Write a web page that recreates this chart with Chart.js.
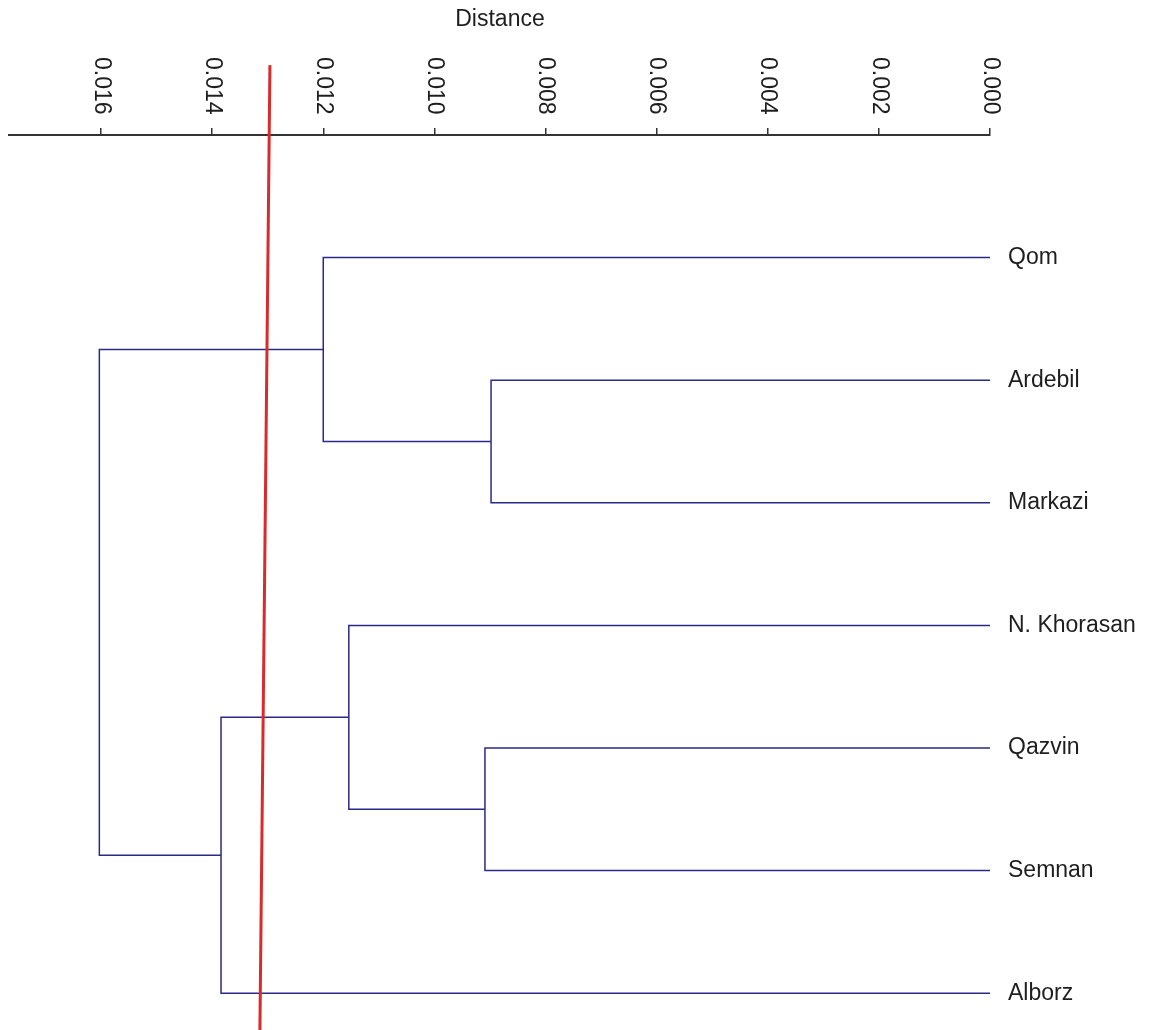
<!DOCTYPE html>
<html>
<head>
<meta charset="utf-8">
<script src="https://cdn.jsdelivr.net/npm/chart.js@4.4.0/dist/chart.umd.min.js"></script>
<style>
  html, body { margin: 0; padding: 0; background: #fff; }
  canvas { display: block; }
</style>
</head>
<body>
<canvas id="dendro" width="1153" height="1030"></canvas>
<script>
// leaves, top to bottom
var leafNames = ["Qom", "Ardebil", "Markazi", "N. Khorasan", "Qazvin", "Semnan", "Alborz"];
// merges: ids 0..6 are leaves, merge k creates cluster id 7+k
var mergeLeft = [1, 4, 0, 3, 10, 9];
var mergeRight = [2, 5, 7, 8, 6, 11];
var mergeHeight = [0.00898, 0.00909, 0.01200, 0.01154, 0.01384, 0.01603];
var tickValues = [0.016, 0.014, 0.012, 0.010, 0.008, 0.006, 0.004, 0.002, 0.000];
var tickLabels = ["0.016", "0.014", "0.012", "0.010", "0.008", "0.006", "0.004", "0.002", "0.000"];
// cut line
var cutX = [0.01296, 0.01314];
var cutY = [-1.57, 6.3];

var fontFamily = "'Liberation Sans', Arial, sans-serif";
var textColor = "#1e1e1e";

// node positions
var nodeX = [], nodeY = [];
leafNames.forEach(function (name, i) { nodeX.push(0); nodeY.push(i); });
mergeHeight.forEach(function (h, k) {
    nodeX.push(h);
    nodeY.push((nodeY[mergeLeft[k]] + nodeY[mergeRight[k]]) / 2);
});

var datasets = [{
    data: [{ x: cutX[0], y: cutY[0] }, { x: cutX[1], y: cutY[1] }],
    borderColor: "#d92b2b",
    borderWidth: 3,
    clip: false
}];
mergeHeight.forEach(function (h, k) {
    var a = mergeLeft[k], b = mergeRight[k];
    datasets.push({
        data: [
            { x: nodeX[a], y: nodeY[a] },
            { x: h, y: nodeY[a] },
            { x: h, y: nodeY[b] },
            { x: nodeX[b], y: nodeY[b] }
        ],
        borderColor: "#2a2a88",
        borderWidth: 1.5
    });
});

var textPlugin = {
    id: "dendroText",
    afterDraw: function (chart) {
        var ctx = chart.ctx;
        var xs = chart.scales.x, ys = chart.scales.y;
        ctx.save();
        ctx.fillStyle = textColor;
        ctx.font = "23px " + fontFamily;

        // axis title
        ctx.textAlign = "center";
        ctx.textBaseline = "middle";
        ctx.fillText("Distance", 500, 20);

        // rotated tick labels
        tickValues.forEach(function (v, i) {
            var px = xs.getPixelForValue(v);
            ctx.save();
            ctx.translate(px, 57);
            ctx.rotate(Math.PI / 2);
            ctx.textAlign = "left";
            ctx.textBaseline = "middle";
            ctx.fillText(tickLabels[i], 0, 0);
            ctx.restore();
        });

        // leaf labels
        ctx.textAlign = "left";
        ctx.textBaseline = "middle";
        leafNames.forEach(function (name, i) {
            ctx.fillText(name, xs.getPixelForValue(0) + 18, ys.getPixelForValue(i));
        });
        ctx.restore();
    }
};

new Chart(document.getElementById("dendro").getContext("2d"), {
    type: "scatter",
    data: { datasets: datasets },
    options: {
        responsive: false,
        animation: false,
        showLine: true,
        elements: { point: { radius: 0, hoverRadius: 0 }, line: { tension: 0 } },
        layout: { padding: { left: 9, right: 163, top: 0, bottom: 0 } },
        plugins: { legend: { display: false }, tooltip: { enabled: false } },
        scales: {
            x: {
                type: "linear",
                position: "top",
                reverse: true,
                min: 0,
                max: 0.017656,
                afterBuildTicks: function (scale) {
                    scale.ticks = tickValues.map(function (v) { return { value: v }; });
                },
                afterFit: function (scale) { scale.height = 135; },
                ticks: { display: false },
                grid: { drawOnChartArea: false, drawTicks: true, tickLength: 7, color: "#333", lineWidth: 1.5 },
                border: { display: true, color: "#333", width: 2 }
            },
            y: {
                display: false,
                min: -1,
                max: 6.3,
                reverse: true
            }
        }
    },
    plugins: [textPlugin]
});
</script>
</body>
</html>
